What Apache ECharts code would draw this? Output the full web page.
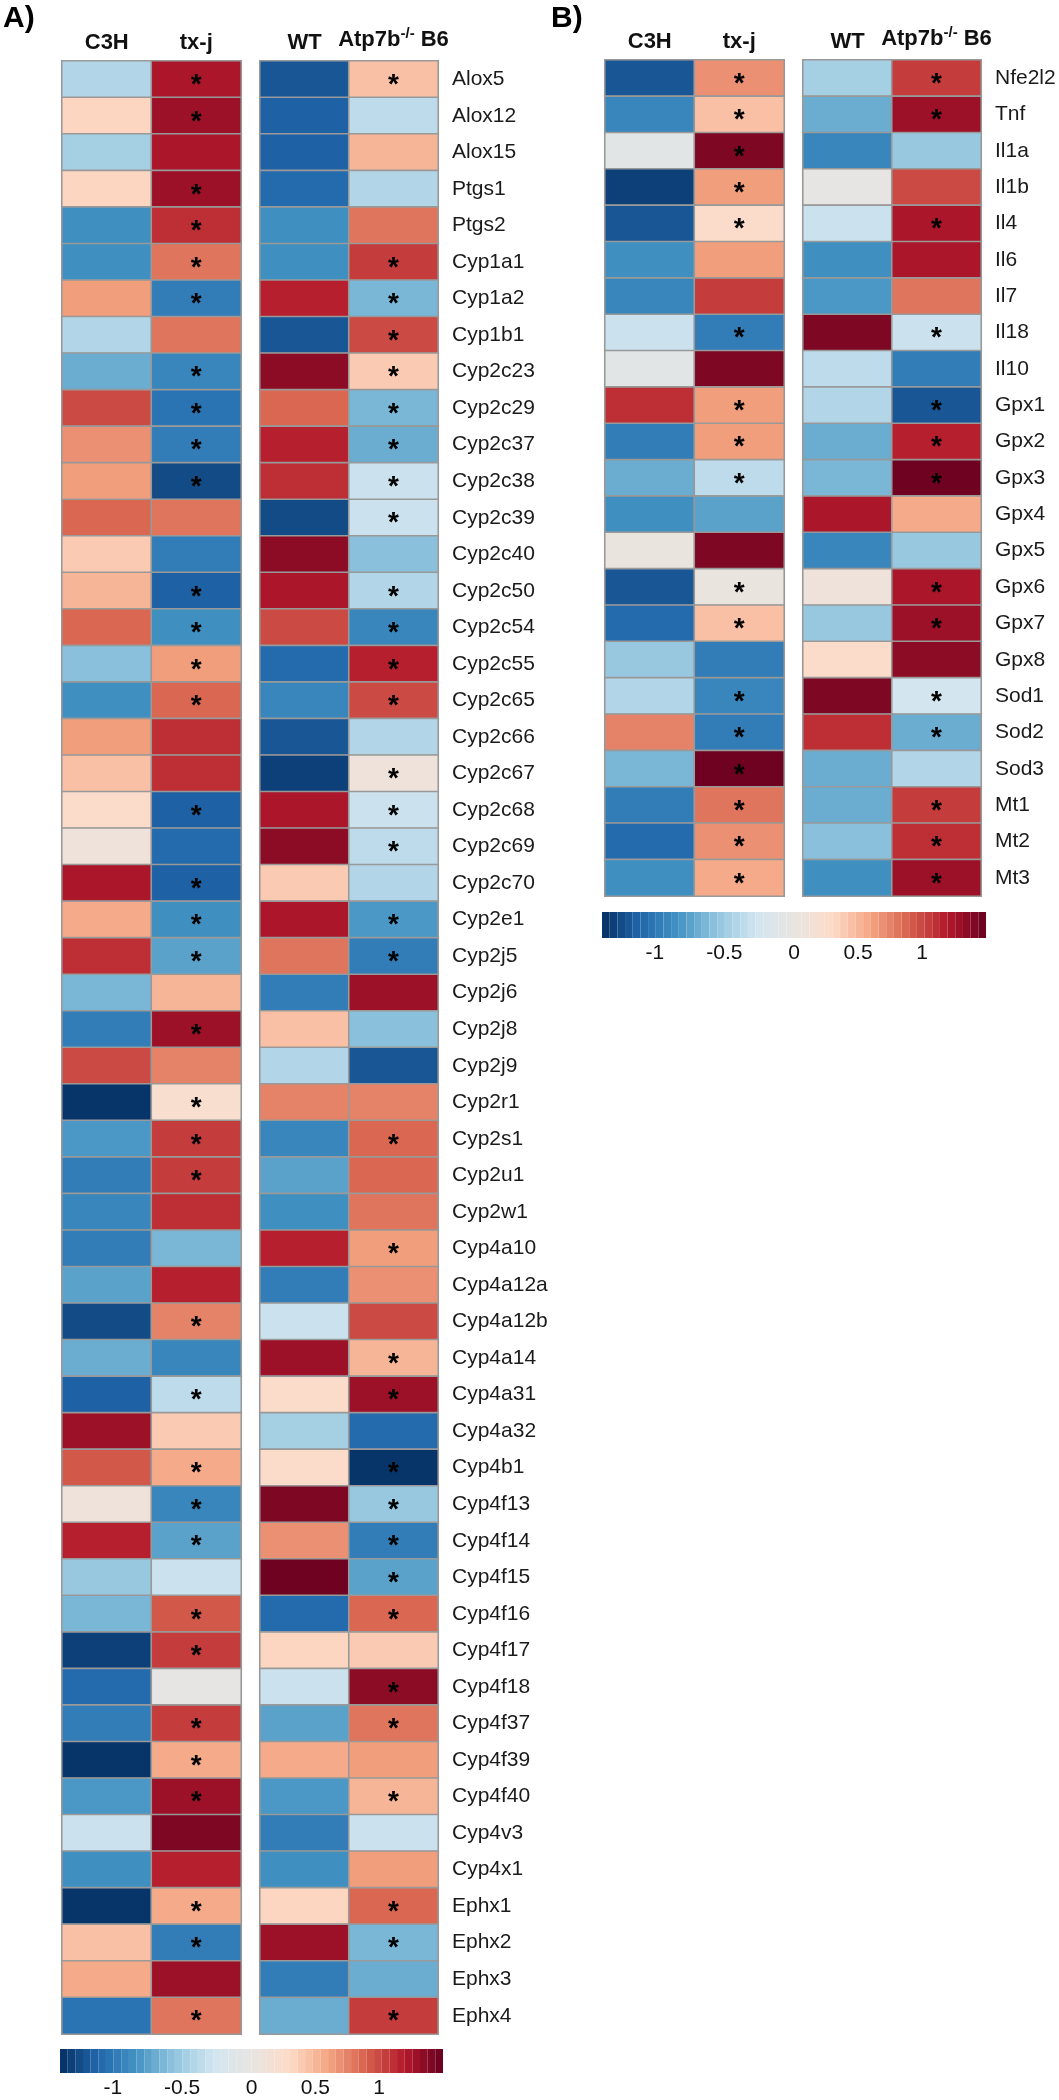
<!DOCTYPE html>
<html>
<head>
<meta charset="utf-8">
<script src="https://cdn.jsdelivr.net/npm/echarts@6/dist/echarts.min.js"></script>
<style>
html,body{margin:0;padding:0;background:#fff;}
#chart{width:1059px;height:2100px;}
</style>
</head>
<body>
<div id="chart"></div>
<script>
// ---------- Panel A data ----------
var genesA = ['Alox5','Alox12','Alox15','Ptgs1','Ptgs2','Cyp1a1','Cyp1a2','Cyp1b1','Cyp2c23','Cyp2c29','Cyp2c37','Cyp2c38','Cyp2c39','Cyp2c40','Cyp2c50','Cyp2c54','Cyp2c55','Cyp2c65','Cyp2c66','Cyp2c67','Cyp2c68','Cyp2c69','Cyp2c70','Cyp2e1','Cyp2j5','Cyp2j6','Cyp2j8','Cyp2j9','Cyp2r1','Cyp2s1','Cyp2u1','Cyp2w1','Cyp4a10','Cyp4a12a','Cyp4a12b','Cyp4a14','Cyp4a31','Cyp4a32','Cyp4b1','Cyp4f13','Cyp4f14','Cyp4f15','Cyp4f16','Cyp4f17','Cyp4f18','Cyp4f37','Cyp4f39','Cyp4f40','Cyp4v3','Cyp4x1','Ephx1','Ephx2','Ephx3','Ephx4'];
var c3hA = [-0.39,0.33,-0.46,0.33,-0.86,-0.86,0.64,-0.41,-0.67,0.98,0.7,0.64,0.89,0.4,0.5,0.9,-0.59,-0.83,0.64,0.46,0.25,0.12,1.25,0.58,1.08,-0.64,-0.98,1.0,-1.37,-0.81,-0.98,-0.89,-0.98,-0.75,-1.25,-0.7,-1.11,1.27,0.91,0.07,1.19,-0.55,-0.63,-1.31,-1.06,-0.98,-1.38,-0.81,-0.29,-0.85,-1.38,0.43,0.55,-1.0];
var txjA = [1.22,1.27,1.22,1.27,1.08,0.78,-0.99,0.78,-0.89,-1.04,-0.98,-1.22,0.83,-0.98,-1.12,-0.83,0.62,0.9,1.11,1.09,-1.13,-1.05,-1.13,-0.86,-0.75,0.52,1.28,0.75,0.22,1.03,1.03,1.1,-0.65,1.19,0.73,-0.92,-0.35,0.39,0.58,-0.92,-0.75,-0.31,0.93,1.06,-0.05,1.06,0.59,1.27,1.39,1.2,0.58,-0.94,1.27,0.8];
var wtA = [-1.18,-1.12,-1.12,-1.1,-0.86,-0.86,1.2,-1.2,1.33,0.86,1.16,1.09,-1.24,1.32,1.23,0.98,-1.05,-0.92,-1.16,-1.27,1.26,1.35,0.4,1.23,0.79,-0.98,0.43,-0.42,0.73,-0.92,-0.72,-0.86,1.2,-0.94,-0.32,1.27,0.27,-0.46,0.25,1.39,0.69,1.47,-1.09,0.3,-0.29,-0.75,0.59,-0.81,-0.98,-0.85,0.34,1.28,-0.98,-0.69];
var atpA = [0.48,-0.37,0.5,-0.41,0.78,1.06,-0.65,0.99,0.37,-0.66,-0.71,-0.33,-0.31,-0.59,-0.44,-0.92,1.18,0.98,-0.43,0.08,-0.32,-0.37,-0.39,-0.81,-0.96,1.27,-0.6,-1.21,0.76,0.86,0.86,0.8,0.63,0.69,0.97,0.5,1.27,-1.1,-1.35,-0.52,-0.94,-0.76,0.88,0.36,1.35,0.78,0.62,0.51,-0.28,0.64,0.86,-0.63,-0.69,1.05];
var starTxjA = [1,1,0,1,1,1,1,0,1,1,1,1,0,0,1,1,1,1,0,0,1,0,1,1,1,0,1,0,1,1,1,0,0,0,1,0,1,0,1,1,1,0,1,1,0,1,1,1,0,0,1,1,0,1];
var starAtpA = [1,0,0,0,0,1,1,1,1,1,1,1,1,0,1,1,1,1,0,1,1,1,0,1,1,0,0,0,0,1,0,0,1,0,0,1,1,0,1,1,1,1,1,0,1,1,0,1,0,0,1,1,0,1];

// ---------- Panel B data ----------
var genesB = ['Nfe2l2','Tnf','Il1a','Il1b','Il4','Il6','Il7','Il18','Il10','Gpx1','Gpx2','Gpx3','Gpx4','Gpx5','Gpx6','Gpx7','Gpx8','Sod1','Sod2','Sod3','Mt1','Mt2','Mt3'];
var c3hB = [-1.17,-0.93,-0.06,-1.29,-1.19,-0.83,-0.9,-0.3,-0.06,1.12,-0.98,-0.69,-0.88,0.05,-1.2,-1.09,-0.53,-0.39,0.73,-0.61,-0.99,-1.1,-0.83];
var txjB = [0.71,0.46,1.41,0.62,0.28,0.62,1.06,-0.94,1.38,0.62,0.61,-0.34,-0.75,1.42,0.06,0.44,-0.98,-0.89,-0.98,1.48,0.84,0.71,0.55];
var wtB = [-0.49,-0.7,-0.92,-0.05,-0.28,-0.88,-0.81,1.41,-0.38,-0.4,-0.69,-0.62,1.25,-0.92,0.1,-0.51,0.25,1.42,1.14,-0.69,-0.7,-0.6,-0.83];
var atpB = [1.07,1.29,-0.51,0.97,1.25,1.21,0.83,-0.29,-0.98,-1.18,1.2,1.48,0.57,-0.53,1.24,1.27,1.35,-0.27,-0.71,-0.39,1.03,1.08,1.27];
var starTxjB = [1,1,1,1,1,0,0,1,0,1,1,1,0,0,1,1,0,1,1,1,1,1,1];
var starAtpB = [1,1,0,0,1,0,0,1,0,1,1,1,0,0,1,1,0,1,1,0,1,1,1];

var colsLeft = ['C3H','tx-j'];
var colsRight = ['WT','Atp7b-/- B6'];
var colorTicks = [-1, -0.5, 0, 0.5, 1];
var scaleMin = -1.38;
var scaleMax = 1.5;
var bandsPerHalf = 25;
var palette = ['#053061','#2166ac','#4393c3','#92c5de','#d1e5f0','#e8e5e2','#fddbc7','#f4a582','#d6604d','#b2182b','#67001f'];

var FONT = 'Liberation Sans, Arial, Helvetica, sans-serif';

// ---- colour scale helpers (legend construction) ----
function hexRgb(h) { return [parseInt(h.substr(1,2),16), parseInt(h.substr(3,2),16), parseInt(h.substr(5,2),16)]; }
function paletteAt(p) { // p in [0,1]
  var n = palette.length - 1;
  var f = Math.max(0, Math.min(1, p)) * n;
  var i = Math.min(n - 1, Math.floor(f));
  var t = f - i;
  var a = hexRgb(palette[i]), b = hexRgb(palette[i + 1]);
  var c = a.map(function (v, k) { return Math.round(v + (b[k] - v) * t); });
  return 'rgb(' + c.join(',') + ')';
}
// value -> legend position in [-1, 1] (each half of the legend has its own scale)
function toS(v) { return v < 0 ? v / Math.abs(scaleMin) : v / scaleMax; }
function fromS(s) { return s < 0 ? s * Math.abs(scaleMin) : s * scaleMax; }
function buildPieces() {
  var pieces = [];
  var total = bandsPerHalf * 2;
  for (var i = 0; i < total; i++) {
    var s0 = -1 + i / bandsPerHalf, s1 = -1 + (i + 1) / bandsPerHalf;
    var piece = {color: paletteAt(((s0 + s1) / 2 + 1) / 2)};
    if (i > 0) piece.gte = fromS(s0);
    if (i < total - 1) piece.lt = fromS(s1);
    pieces.push(piece);
  }
  return pieces;
}
var pieces = buildPieces();

function cells(a, b, sb) {
  var out = [];
  for (var i = 0; i < a.length; i++) {
    out.push([0, i, a[i], 0]);
    out.push([1, i, b[i], sb[i]]);
  }
  return out;
}

function xAx(gridIndex, cats) {
  return {
    type: 'category', gridIndex: gridIndex, data: cats, position: 'top',
    axisLine: {show: false}, axisTick: {show: false}, splitLine: {show: false},
    axisLabel: {
      margin: 7, interval: 0,
      formatter: function (v) {
        if (v === 'Atp7b-/- B6') return '{a|Atp7b}{s|-/-}{a| B6}';
        return '{a|' + v + '}';
      },
      rich: {
        a: {fontSize: 22, fontWeight: 'bold', color: '#111', fontFamily: FONT},
        s: {fontSize: 15, fontWeight: 'bold', color: '#111', fontFamily: FONT, padding: [0, 0, 13, 0]}
      }
    }
  };
}
function yAx(gridIndex, genes, showLabels) {
  return {
    type: 'category', gridIndex: gridIndex, data: genes, inverse: true,
    position: 'right',
    axisLine: {show: false}, axisTick: {show: false}, splitLine: {show: false},
    axisLabel: {show: showLabels, margin: 14, interval: 0, fontSize: 21, color: '#1a1a1a', fontFamily: FONT}
  };
}
function heat(xi, yi, data) {
  return {
    type: 'heatmap', xAxisIndex: xi, yAxisIndex: yi, data: data,
    itemStyle: {borderColor: '#999999', borderWidth: 1.6},
    label: {
      show: true, fontSize: 28, fontWeight: 'bold', color: '#000', fontFamily: FONT,
      offset: [0, 6],
      formatter: function (p) { return p.data[3] ? '*' : ''; }
    },
    emphasis: {disabled: true}
  };
}
function tickAxis(gridIndex) {
  return {
    type: 'value', gridIndex: gridIndex, min: -1, max: 1,
    position: 'bottom',
    axisLine: {show: false}, axisTick: {show: false}, splitLine: {show: false},
    axisLabel: {
      margin: 5, fontSize: 21, color: '#111', fontFamily: FONT,
      customValues: colorTicks.map(toS),
      formatter: function (s) { return String(Math.round(fromS(s) * 10) / 10); }
    }
  };
}
function hiddenY(gridIndex) {
  return {type: 'value', gridIndex: gridIndex, show: false, min: 0, max: 1};
}
function legendMap(seriesIdx, left, top, len, thick) {
  return {
    type: 'piecewise', pieces: pieces, dimension: 2, seriesIndex: seriesIdx,
    orient: 'horizontal', left: left, top: top,
    itemWidth: len / (bandsPerHalf * 2), itemHeight: thick, itemGap: 0,
    itemSymbol: 'rect', showLabel: false, selectedMode: false, hoverLink: false,
    padding: 0, text: null
  };
}

var option = {
  backgroundColor: '#ffffff',
  animation: false,
  textStyle: {fontFamily: FONT},
  grid: [
    {left: 62, top: 61, width: 179, height: 1973},
    {left: 260, top: 61, width: 178, height: 1973},
    {left: 605, top: 60, width: 179, height: 836},
    {left: 803, top: 60, width: 178, height: 836},
    {left: 60, top: 2072, width: 383, height: 1},
    {left: 602, top: 937, width: 384, height: 1}
  ],
  xAxis: [
    xAx(0, colsLeft), xAx(1, colsRight), xAx(2, colsLeft), xAx(3, colsRight),
    tickAxis(4), tickAxis(5)
  ],
  yAxis: [
    yAx(0, genesA, false), yAx(1, genesA, true), yAx(2, genesB, false), yAx(3, genesB, true),
    hiddenY(4), hiddenY(5)
  ],
  visualMap: [
    legendMap([0, 1], 60, 2049, 383, 24),
    legendMap([2, 3], 602, 912, 384, 26)
  ],
  graphic: [
    {type: 'text', left: 3, top: 4, style: {text: 'A)', fontSize: 30, fontWeight: 'bold', fill: '#000', fontFamily: FONT}},
    {type: 'text', left: 551, top: 4, style: {text: 'B)', fontSize: 30, fontWeight: 'bold', fill: '#000', fontFamily: FONT}}
  ],
  series: [
    heat(0, 0, cells(c3hA, txjA, starTxjA)),
    heat(1, 1, cells(wtA, atpA, starAtpA)),
    heat(2, 2, cells(c3hB, txjB, starTxjB)),
    heat(3, 3, cells(wtB, atpB, starAtpB))
  ]
};

var chart = echarts.init(document.getElementById('chart'), null, {renderer: 'canvas', width: 1059, height: 2100});
chart.setOption(option);
</script>
</body>
</html>
